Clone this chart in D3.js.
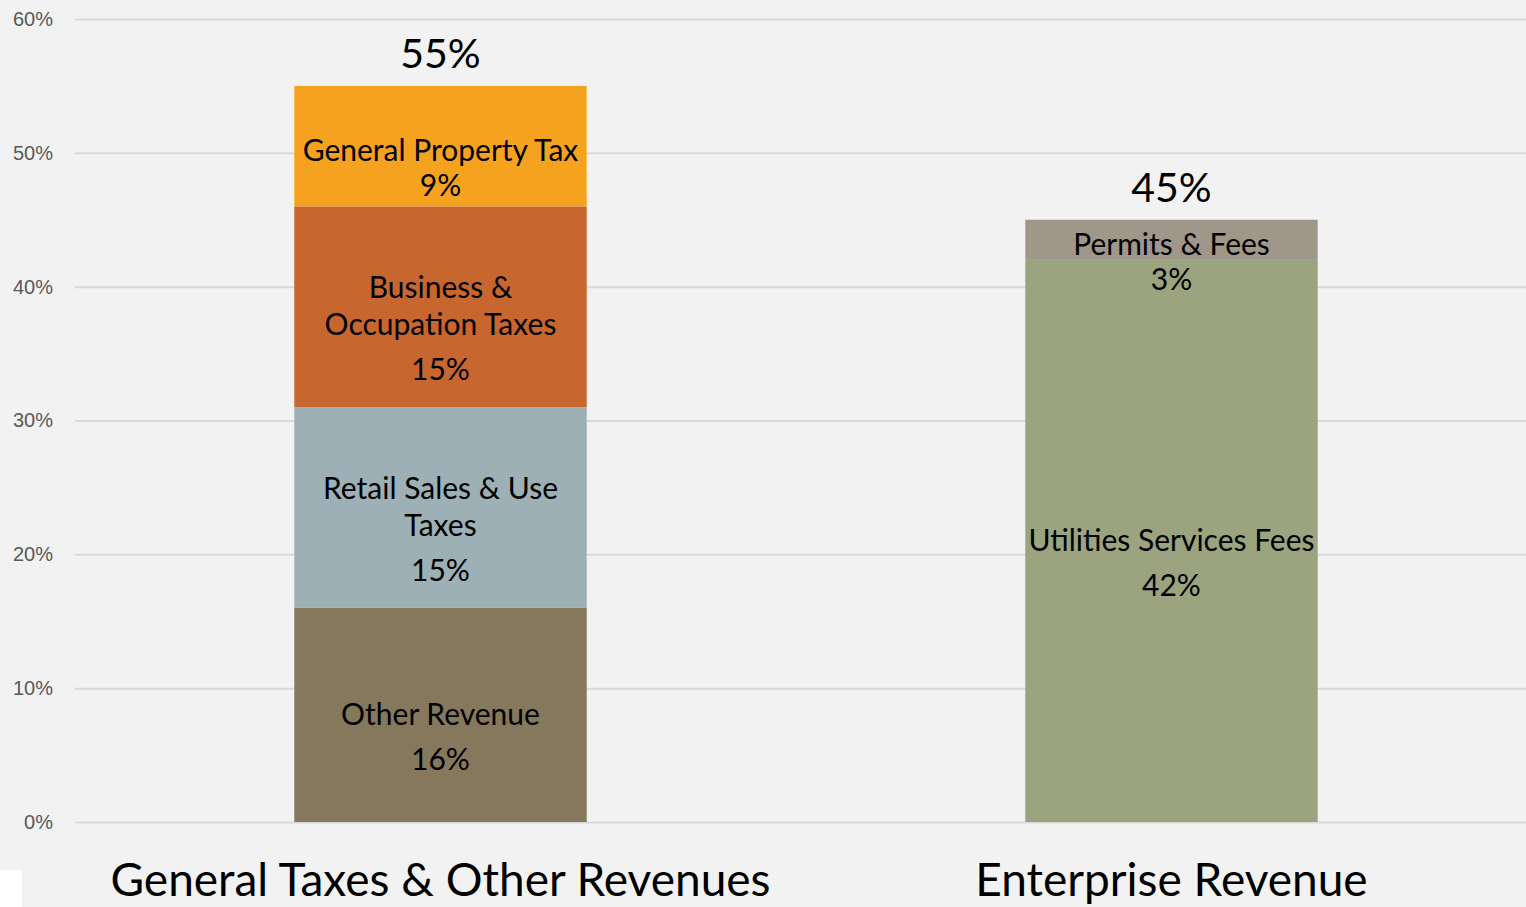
<!DOCTYPE html>
<html>
<head>
<meta charset="utf-8">
<script src="https://cdn.jsdelivr.net/npm/d3@7"></script>
<style>
  html, body { margin: 0; padding: 0; background: #f2f2f2; }
  svg { display: block; font-family: 'Lato', 'Open Sans', sans-serif; }
</style>
</head>
<body>
<div id="chart"></div>
<script>
// categories along the x axis
const categories = ['General Taxes & Other Revenues', 'Enterprise Revenue'];

// stacked segments, bottom to top, for each category
const segmentCategory = ['General Taxes & Other Revenues', 'General Taxes & Other Revenues',
  'General Taxes & Other Revenues', 'General Taxes & Other Revenues',
  'Enterprise Revenue', 'Enterprise Revenue'];
const segmentNames = [
  ['Other Revenue'],
  ['Retail Sales & Use', 'Taxes'],
  ['Business &', 'Occupation Taxes'],
  ['General Property Tax'],
  ['Utilities Services Fees'],
  ['Permits & Fees']
];
const segmentValues = [0.16, 0.15, 0.15, 0.09, 0.42, 0.03];
const segmentColors = ['#85785c', '#9cb0b6', '#c8662f', '#f5a31f', '#9ba37f', '#a0978b'];

const totals = [0.55, 0.45];
const yTicks = [0, 0.1, 0.2, 0.3, 0.4, 0.5, 0.6];

const width = 1526;
const height = 907;

const svg = d3.select('#chart').append('svg')
  .attr('width', width)
  .attr('height', height);

svg.append('rect')
  .attr('width', width)
  .attr('height', height)
  .attr('fill', '#f2f2f2');

const x = d3.scaleBand()
  .domain(categories)
  .range([75, 1537])
  .paddingInner(0.6)
  .paddingOuter(0.3);

const y = d3.scaleLinear()
  .domain([0, 0.6])
  .range([822, 19]);

// gridlines
const yAxis = d3.axisLeft(y)
  .tickValues(yTicks)
  .tickFormat(d3.format('.0%'))
  .tickSize(-(width - 75))
  .tickPadding(22);

const gy = svg.append('g')
  .attr('transform', 'translate(75,0)')
  .call(yAxis);
gy.select('.domain').remove();
gy.selectAll('.tick line')
  .attr('stroke', '#d9d9d9')
  .attr('stroke-width', 2);
gy.selectAll('.tick text')
  .attr('fill', '#595959')
  .attr('font-size', 20);

// build stacked rows
const stackBase = {};
const segs = segmentValues.map((v, i) => {
  const cat = segmentCategory[i];
  const y0 = stackBase[cat] || 0;
  stackBase[cat] = y0 + v;
  return { cat, y0, y1: y0 + v, value: v, names: segmentNames[i], color: segmentColors[i] };
});

svg.append('g').selectAll('rect')
  .data(segs)
  .join('rect')
  .attr('x', d => x(d.cat))
  .attr('width', x.bandwidth())
  .attr('y', d => y(d.y1))
  .attr('height', d => y(d.y0) - y(d.y1))
  .attr('fill', d => d.color);

// segment labels
const labelG = svg.append('g')
  .attr('font-size', 30)
  .attr('fill', '#000')
  .attr('text-anchor', 'middle');

segs.forEach(d => {
  const cx = x(d.cat) + x.bandwidth() / 2;
  const segH = y(d.y0) - y(d.y1);
  const pctGap = segH < 130 ? 35 : 45;
  const lines = d.names.map((t, i) => ({ t, off: i * 37 }));
  const last = (d.names.length - 1) * 37 + pctGap;
  lines.push({ t: d3.format('.0%')(d.value), off: last });
  const mid = (y(d.y0) + y(d.y1)) / 2 + 22;
  const top = mid - last / 2;
  lines.forEach(l => {
    labelG.append('text')
      .attr('x', cx)
      .attr('y', top + l.off)
      .attr('dy', '0.35em')
      .text(l.t);
  });
});

// totals above the bars
svg.append('g').selectAll('text')
  .data(categories)
  .join('text')
  .attr('x', d => x(d) + x.bandwidth() / 2)
  .attr('y', (d, i) => y(totals[i]) - 32)
  .attr('dy', '0.35em')
  .attr('text-anchor', 'middle')
  .attr('font-size', 41)
  .attr('fill', '#000')
  .text((d, i) => d3.format('.0%')(totals[i]));

// category labels
svg.append('g').selectAll('text')
  .data(categories)
  .join('text')
  .attr('x', d => x(d) + x.bandwidth() / 2)
  .attr('y', 880)
  .attr('dy', '0.35em')
  .attr('text-anchor', 'middle')
  .attr('font-size', 46)
  .attr('fill', '#000')
  .text(d => d);

// small white patch in the lower left corner
svg.append('rect')
  .attr('x', 0)
  .attr('y', 870)
  .attr('width', 22)
  .attr('height', 37)
  .attr('fill', '#ffffff');
</script>
</body>
</html>
